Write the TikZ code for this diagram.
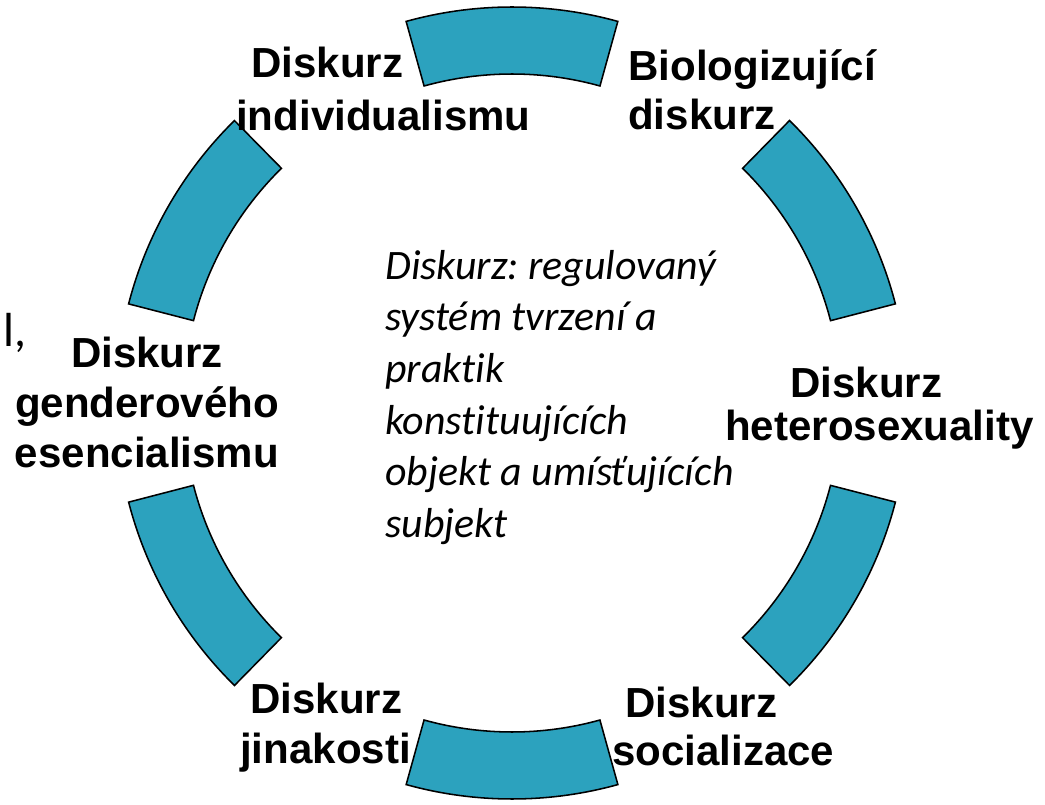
\documentclass[tikz,border=0pt]{standalone}
\usepackage{fontspec}
\setmainfont{Liberation Sans}
\newfontfamily\calibri[Ligatures=NoCommon]{Carlito}
\usetikzlibrary{calc}
\frenchspacing
\definecolor{ringblue}{RGB}{44,162,190}
\tikzstyle{segment} = [draw=black, fill=ringblue, line width=1.1pt, line join=miter]
\tikzstyle{heading} = [font=\fontsize{29.9pt}{37.7pt}\selectfont\bfseries,
      inner sep=0pt, anchor=north west, align=left]
\tikzstyle{remark} = [font=\fontsize{29.8pt}{36.7pt}\selectfont\calibri\itshape,
      inner sep=0pt, anchor=north west, align=left]

\begin{document}
\begin{tikzpicture}[x=0.025cm, y=0.025cm]
	  \useasboundingbox (0,0) rectangle (1045,804);
	  \coordinate (centre) at (512,401);
	  % Ring
	  \foreach \a [evaluate=\a as \s using \a-15.5, evaluate=\a as \e using \a+15.5] in {90,30,-30,-90,-150,150}
	    \draw[segment] ($(centre)+(\s:396)$) arc[start angle=\s, end angle=\e, radius=9.9cm]
	      -- ($(centre)+(\e:329)$) arc[start angle=\e, end angle=\s, radius=8.225cm] -- cycle;
	  % Labels
	  \node[heading] (individ) at (236,757.3) {\hspace*{0.375cm}Diskurz\\individualismu};
	  \node[heading] (biolog) at (628,754.5) {Biologizující\\[-2.8pt]diskurz};
	  \node[heading, anchor=north, align=center] (gender) at (147,467.3) {Diskurz\\[-2.1pt]genderového\\[-2.1pt]esencialismu};
	  \node[heading] (hetero) at (725,437.3) {\hspace*{1.625cm}Diskurz\\[-7.1pt]heterosexuality};
	  \node[heading] (jinak) at (240,121.3) {\hspace*{0.25cm}Diskurz\\[-2.1pt]jinakosti};
	  \node[heading] (social) at (612,117.3) {\hspace*{0.325cm}Diskurz\\[-3.6pt]socializace};
	  % Definition
	  \node[remark] (definice) at (385,554) {Diskurz: regulovaný\\systém tvrzení a\\praktik\\konstituujících\\objekt a umísťujících\\subjekt};
	  % Cut-off text at the left edge
	  \node[anchor=base west, inner sep=0pt, font=\fontsize{34pt}{40pt}\selectfont\calibri] (cutoff) at (3,457) {l,};
\end{tikzpicture}
\end{document}
